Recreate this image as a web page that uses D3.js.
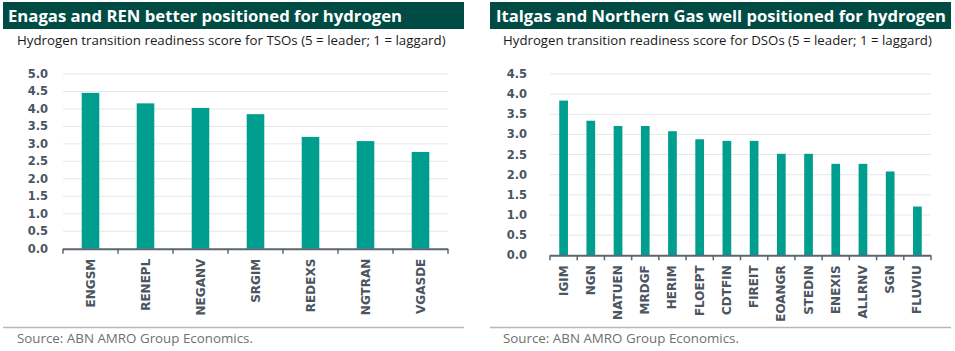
<!DOCTYPE html>
<html>
<head>
<meta charset="utf-8">
<script src="https://cdn.jsdelivr.net/npm/d3@7"></script>
<style>
  body { margin: 0; background: #fff; }
  svg { font-family: "Open Sans", sans-serif; }
  .lbl { font-family: "DejaVu Sans", sans-serif; font-weight: bold; }
</style>
</head>
<body>
<div id="chart-container"></div>
<script>
// TSO panel
const tsoNames = ["ENGSM", "RENEPL", "NEGANV", "SRGIM", "REDEXS", "NGTRAN", "VGASDE"];
const tsoScores = [4.46, 4.16, 4.03, 3.85, 3.2, 3.08, 2.77];
const tsoTicks = [0, 0.5, 1, 1.5, 2, 2.5, 3, 3.5, 4, 4.5, 5];

// DSO panel
const dsoNames = ["IGIM", "NGN", "NATUEN", "MRDGF", "HERIM", "FLOEPT", "CDTFIN", "FIREIT",
  "EOANGR", "STEDIN", "ENEXIS", "ALLRNV", "SGN", "FLUVIU"];
const dsoScores = [3.84, 3.34, 3.21, 3.21, 3.08, 2.88, 2.84, 2.84, 2.52, 2.52, 2.27, 2.27, 2.08, 1.21];
const dsoTicks = [0, 0.5, 1, 1.5, 2, 2.5, 3, 3.5, 4, 4.5];

const titles = ["Enagas and REN better positioned for hydrogen",
  "Italgas and Northern Gas well positioned for hydrogen"];
const subtitles = ["Hydrogen transition readiness score for TSOs (5 = leader; 1 = laggard)",
  "Hydrogen transition readiness score for DSOs (5 = leader; 1 = laggard)"];
const sourceText = "Source: ABN AMRO Group Economics.";

const barColor = "#009e8e";
const headColor = "#004c45";
const axisColor = "#5b6670";
const labelColor = "#4b5560";

const svg = d3.select("#chart-container")
  .append("svg")
  .attr("width", 955)
  .attr("height", 351);

// scale a text's font size so it spans the wanted width
function fit(sel, size, want) {
  sel.style("font-size", size + "px");
  const w = sel.node().getComputedTextLength();
  if (w > 0) sel.style("font-size", (size * want / w).toFixed(2) + "px");
  return sel;
}

function drawPanel(p) {
  const g = svg.append("g");

  // header bar
  g.append("rect")
    .attr("x", p.left).attr("y", 2)
    .attr("width", p.right - p.left).attr("height", 27)
    .attr("fill", headColor);
  const t = g.append("text")
    .attr("x", p.titleX).attr("y", 22)
    .attr("fill", "#fff")
    .style("font-weight", "bold")
    .text(p.title);
  fit(t, 17, p.titleW);

  const s = g.append("text")
    .attr("x", p.subX).attr("y", 45)
    .attr("fill", "#1a1a1a")
    .text(p.subtitle);
  fit(s, 12.5, 429);

  const x = d3.scaleBand()
    .domain(p.names)
    .range([p.x0, p.x1])
    .paddingInner(0.68)
    .paddingOuter(0.34);

  const y = d3.scaleLinear()
    .domain([0, p.yMax])
    .range([p.y0, 74]);

  // gridlines
  g.append("g")
    .selectAll("line")
    .data(p.ticks.filter(t => t > 0))
    .join("line")
    .attr("x1", p.x0).attr("x2", p.x1)
    .attr("y1", d => y(d)).attr("y2", d => y(d))
    .attr("stroke", "#e4e7e9")
    .attr("stroke-width", 1);

  // y tick labels
  g.append("g")
    .selectAll("text")
    .data(p.ticks)
    .join("text")
    .attr("class", "lbl")
    .attr("x", p.yLabelX)
    .attr("y", d => y(d))
    .attr("dy", "0.35em")
    .attr("text-anchor", "end")
    .attr("fill", labelColor)
    .style("font-size", "11.5px")
    .text(d => d.toFixed(1));

  // bars
  g.append("g")
    .selectAll("rect")
    .data(p.names.map((n, i) => ({name: n, value: p.values[i]})))
    .join("rect")
    .attr("x", d => x(d.name))
    .attr("y", d => y(d.value))
    .attr("width", x.bandwidth())
    .attr("height", d => p.y0 - y(d.value))
    .attr("fill", barColor);

  // x axis
  const step = x.step();
  const tickX = d3.range(p.names.length + 1).map(i => p.x0 + i * step);
  const ax = g.append("g");
  ax.append("line")
    .attr("x1", p.x0).attr("x2", p.x1)
    .attr("y1", p.y0 + 0.5).attr("y2", p.y0 + 0.5)
    .attr("stroke", axisColor)
    .attr("stroke-width", 2);
  ax.selectAll(".tk")
    .data(tickX)
    .join("line")
    .attr("class", "tk")
    .attr("x1", d => d).attr("x2", d => d)
    .attr("y1", p.y0).attr("y2", p.y0 + 5)
    .attr("stroke", axisColor)
    .attr("stroke-width", 1.5);

  ax.selectAll(".xl")
    .data(p.names)
    .join("text")
    .attr("class", "xl lbl")
    .attr("transform", d => `translate(${x(d) + x.bandwidth() / 2 + 4},${p.y0 + 10})rotate(-90)`)
    .attr("text-anchor", "end")
    .attr("fill", labelColor)
    .style("font-size", "12px")
    .text(d => d);

  // source
  g.append("line")
    .attr("x1", p.left).attr("x2", p.right)
    .attr("y1", 327.5).attr("y2", 327.5)
    .attr("stroke", "#b5b9bc")
    .attr("stroke-width", 1.5);
  const src = g.append("text")
    .attr("x", p.subX).attr("y", 343)
    .attr("fill", "#707070")
    .text(sourceText);
  fit(src, 12, 236);
}

drawPanel({
  left: 3, right: 464, titleX: 8, subX: 17, titleW: 394,
  title: titles[0], subtitle: subtitles[0],
  names: tsoNames, values: tsoScores, ticks: tsoTicks, yMax: 5,
  x0: 63, x1: 448, y0: 248.7, yLabelX: 48
});

drawPanel({
  left: 490, right: 951, titleX: 496, subX: 503, titleW: 450,
  title: titles[1], subtitle: subtitles[1],
  names: dsoNames, values: dsoScores, ticks: dsoTicks, yMax: 4.5,
  x0: 550, x1: 931, y0: 255.3, yLabelX: 527
});
</script>
</body>
</html>
